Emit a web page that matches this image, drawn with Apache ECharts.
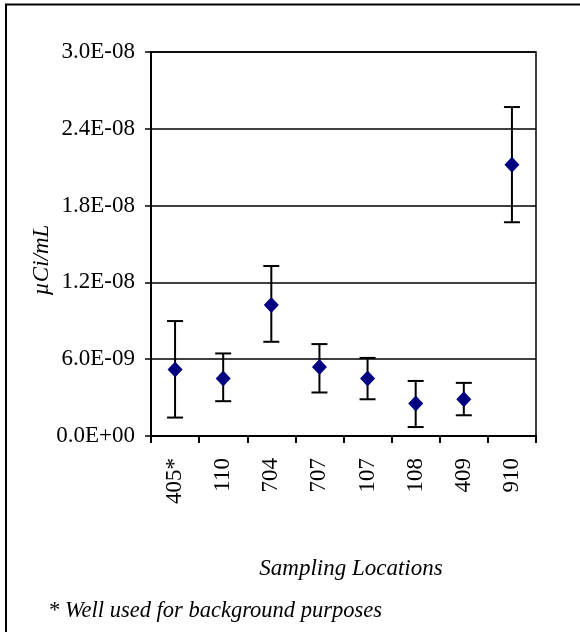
<!DOCTYPE html>
<html>
<head>
<meta charset="utf-8">
<script src="https://cdn.jsdelivr.net/npm/echarts@6/dist/echarts.min.js"></script>
<style>
  html, body { margin: 0; padding: 0; background: #fff; }
  #chart { width: 580px; height: 632px; }
</style>
</head>
<body>
<div id="chart"></div>
<script>
// Sampling locations and measured concentrations (µCi/mL)
var locations = ['405*', '110', '704', '707', '107', '108', '409', '910'];
var concentration = [5.20e-9, 4.49e-9, 1.023e-8, 5.40e-9, 4.49e-9, 2.53e-9, 2.87e-9, 2.119e-8];
var upperBound = [8.98e-9, 6.45e-9, 1.328e-8, 7.18e-9, 6.10e-9, 4.30e-9, 4.15e-9, 2.570e-8];
var lowerBound = [1.44e-9, 2.72e-9, 7.36e-9, 3.40e-9, 2.87e-9, 0.70e-9, 1.62e-9, 1.670e-8];

// y axis range
var yMin = 0, yMax = 3.0e-8, yStep = 6.0e-9;

var FONT = '"Liberation Serif", "Times New Roman", serif';

function sciLabel(v) {
  var s = Number(v).toExponential(1).toUpperCase();
  var parts = s.split('E');
  var exp = parseInt(parts[1], 10);
  var sign = exp < 0 ? '-' : '+';
  var mag = Math.abs(exp);
  return parts[0] + 'E' + sign + (mag < 10 ? '0' : '') + mag;
}

var errorData = locations.map(function (_, i) {
  return [i, lowerBound[i], upperBound[i]];
});

var chart = echarts.init(document.getElementById('chart'), null, { renderer: 'canvas' });

chart.setOption({
  backgroundColor: '#ffffff',
  animation: false,
  textStyle: { fontFamily: FONT },
  grid: {
    left: 151, top: 52, right: 44, bottom: 196,
    show: true, borderColor: '#000', borderWidth: 1.5, backgroundColor: 'transparent'
  },
  xAxis: {
    type: 'category',
    data: locations,
    boundaryGap: true,
    axisLine: { show: true, lineStyle: { color: '#000', width: 2 } },
    axisTick: { show: true, length: 7, lineStyle: { color: '#000', width: 2 } },
    axisLabel: {
      rotate: 90, margin: 22, color: '#000',
      fontFamily: FONT, fontSize: 23
    },
    splitLine: { show: false }
  },
  yAxis: {
    type: 'value',
    min: yMin, max: yMax, interval: yStep,
    axisLine: { show: true, lineStyle: { color: '#000', width: 2 } },
    axisTick: { show: true, length: 6, lineStyle: { color: '#000', width: 1.5 } },
    axisLabel: {
      margin: 16, color: '#000', fontFamily: FONT, fontSize: 23,
      formatter: sciLabel
    },
    splitLine: { show: true, lineStyle: { color: '#000', width: 1.5 } }
  },
  series: [
    {
      type: 'custom',
      name: 'range',
      data: errorData,
      z: 2,
      renderItem: function (params, api) {
        var x = api.value(0);
        var lo = api.coord([x, api.value(1)]);
        var hi = api.coord([x, api.value(2)]);
        var cap = 8;
        var style = { stroke: '#000', lineWidth: 2 };
        return {
          type: 'group',
          children: [
            { type: 'line', shape: { x1: hi[0], y1: hi[1], x2: lo[0], y2: lo[1] }, style: style },
            { type: 'line', shape: { x1: hi[0] - cap, y1: hi[1], x2: hi[0] + cap, y2: hi[1] }, style: style },
            { type: 'line', shape: { x1: lo[0] - cap, y1: lo[1], x2: lo[0] + cap, y2: lo[1] }, style: style }
          ]
        };
      }
    },
    {
      type: 'scatter',
      name: 'concentration',
      data: concentration,
      symbol: 'diamond',
      symbolSize: [15, 16],
      z: 3,
      itemStyle: { color: '#000080', opacity: 1 }
    }
  ],
  graphic: [
    {
      type: 'rect',
      shape: { x: 6, y: 4.5, width: 700, height: 700 },
      style: { fill: 'transparent', stroke: '#000', lineWidth: 2 },
      silent: true
    },
    {
      type: 'text',
      x: 42, y: 260,
      rotation: Math.PI / 2,
      style: {
        text: 'µCi/mL', fontFamily: FONT, fontSize: 23, fontStyle: 'italic',
        fill: '#000', align: 'center', verticalAlign: 'middle'
      }
    },
    {
      type: 'text',
      x: 351, y: 569,
      style: {
        text: 'Sampling Locations', fontFamily: FONT, fontSize: 23, fontStyle: 'italic',
        fill: '#000', align: 'center', verticalAlign: 'middle'
      }
    },
    {
      type: 'text',
      x: 48, y: 611,
      style: {
        text: '* Well used for background purposes', fontFamily: FONT, fontSize: 22.5, fontStyle: 'italic',
        fill: '#000', align: 'left', verticalAlign: 'middle'
      }
    }
  ]
});
</script>
</body>
</html>
